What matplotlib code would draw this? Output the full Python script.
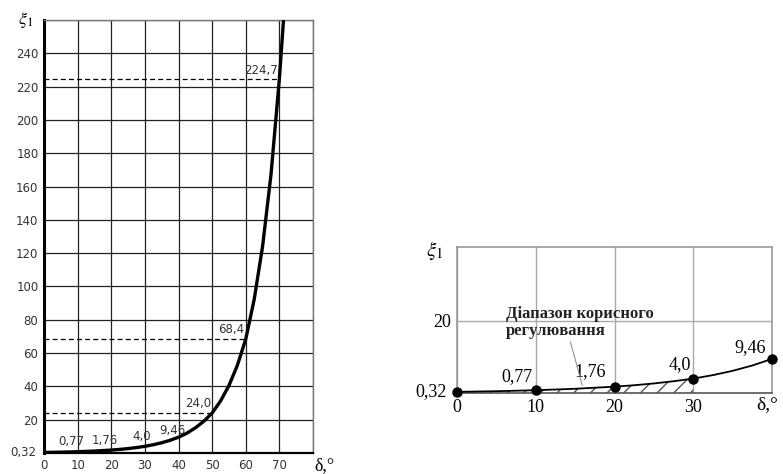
import matplotlib.pyplot as plt

# values
delta_pts = [0, 10, 20, 30, 40, 50, 60, 70]
xi_pts = [0.32, 0.77, 1.76, 4.0, 9.46, 24.0, 68.4, 224.7]
pt_labels = ['0,32', '0,77', '1,76', '4,0', '9,46', '24,0', '68,4', '224,7']

# points along the drawn curve
curve_delta = [0, 5, 10, 15, 20, 22.5, 25, 27.5, 30, 32.5, 35, 37.5, 40, 42.5, 45, 47.5,
               50, 52.5, 55, 57.5, 60, 62.5, 65, 67.5, 70, 71.3]
curve_xi = [0.32, 0.5, 0.77, 1.17, 1.76, 2.15, 2.65, 3.26, 4.0, 4.96, 6.15, 7.63, 9.46, 11.9, 15.1, 19.0,
            24.0, 31.2, 40.5, 52.6, 68.4, 92.1, 124, 167, 224.7, 262]

left_xticks = [0, 10, 20, 30, 40, 50, 60, 70, 80]
left_yticks = [0, 20, 40, 60, 80, 100, 120, 140, 160, 180, 200, 220, 240, 260]
dashed_idx = [5, 6, 7]  # 24,0 / 68,4 / 224,7

right_xticks = [0, 10, 20, 30, 40]
useful_range = 30
region_text = 'Діапазон корисного\nрегулювання'

plt.rcParams['mathtext.fontset'] = 'stix'
plt.rcParams['hatch.color'] = '#555555'
plt.rcParams['hatch.linewidth'] = 1.0
fig = plt.figure(figsize=(7.83, 4.74), dpi=100)

# ---------------- left chart ----------------
ax = fig.add_axes([44 / 783, 21 / 474, 269 / 783, 433 / 474])
ax.set_xlim(0, 80)
ax.set_ylim(0, 260)
ax.set_xticks(left_xticks)
ax.set_xticklabels([str(v) for v in left_xticks[:-1]] + [''])
ax.set_yticks(left_yticks)
ax.set_yticklabels([''] + [str(v) for v in left_yticks[1:-1]] + [''])
ax.tick_params(length=0, labelsize=8.5, labelcolor='#333333', pad=4)
ax.grid(True, color='#222222', lw=0.9)
ax.set_axisbelow(True)
for s in ['top', 'right']:
    ax.spines[s].set_color('#777777')
    ax.spines[s].set_linewidth(1)
ax.spines['left'].set_linewidth(2.2)
ax.spines['bottom'].set_linewidth(1.6)

ax.plot(curve_delta, curve_xi, color='black', lw=2.4, zorder=3)
for i in dashed_idx:
    ax.plot([0, delta_pts[i]], [xi_pts[i], xi_pts[i]], color='black', lw=0.9,
            ls=(0, (4, 2.5)), zorder=2)

left_lab_pos = [(8.0, 6.8), (18.2, 7.4), (29.2, 9.8), (38.1, 13.4),
                (45.8, 30), (55.7, 73.9), (64.6, 229.4)]
for (x, y), lab in zip(left_lab_pos, pt_labels[1:]):
    ax.text(x, y, lab, fontsize=8.5, color='#333333', ha='center', va='center', zorder=2)
ax.text(-2.2, 0.32, pt_labels[0], fontsize=8.5, color='#333333', ha='right', va='center')
fig.text(18 / 783, 1 - 20 / 474, r'$\xi_1$', fontsize=13, ha='left', va='center')
fig.text(324 / 783, 1 - 466 / 474, 'δ,°', fontsize=13, family='Liberation Serif',
         ha='center', va='center')

# ---------------- right chart ----------------
ax2 = fig.add_axes([457 / 783, 81 / 474, 315 / 783, 146 / 474])
ax2.set_xlim(0, 40)
ax2.set_ylim(0, 40.5)
ax2.set_xticks(right_xticks)
ax2.set_xticklabels([str(v) for v in right_xticks[:-1]] + [''])
ax2.set_yticks([20])
ax2.set_yticklabels(['20'])
ax2.tick_params(length=0, labelsize=13, pad=4)
for lab in ax2.get_xticklabels() + ax2.get_yticklabels():
    lab.set_family('Liberation Serif')
ax2.grid(True, color='#aaaaaa', lw=1)
ax2.set_axisbelow(True)
for s in ax2.spines.values():
    s.set_color('#999999')
    s.set_linewidth(1.2)
ax2.spines['bottom'].set_color('#555555')

rd = [d for d in curve_delta if d <= 40]
rx = curve_xi[:len(rd)]
hd = [d for d in rd if d <= useful_range]
ax2.fill_between(hd, 0, rx[:len(hd)], facecolor='none', edgecolor='#555555', hatch='//', lw=0)
ax2.plot(rd, rx, color='black', lw=1.3, zorder=3)
ax2.plot(delta_pts[:5], xi_pts[:5], 'o', color='black', ms=6.5, clip_on=False, zorder=4)

right_lab_pos = [(7.6, 4.6), (16.9, 6.0), (28.3, 8.0), (37.2, 12.7)]
for (x, y), lab in zip(right_lab_pos, pt_labels[1:5]):
    ax2.text(x, y, lab, fontsize=13, family='Liberation Serif', ha='center', va='center')
ax2.text(-1.3, 0.32, pt_labels[0], fontsize=13, family='Liberation Serif', ha='right', va='center')
ax2.text(6.2, 19.6, region_text, fontsize=12, family='Liberation Serif', fontweight='bold',
         color='#222222', ha='left', va='center', linespacing=1.05)
ax2.plot([14.4, 15.9], [14.2, 2.2], color='#888888', lw=0.7, zorder=3)
fig.text(435 / 783, 1 - 250 / 474, r'$\xi_1$', fontsize=15, ha='center', va='center')
fig.text(767 / 783, 1 - 405 / 474, 'δ,°', fontsize=14, family='Liberation Serif',
         ha='center', va='center')

fig.savefig('out.png', dpi=100)
